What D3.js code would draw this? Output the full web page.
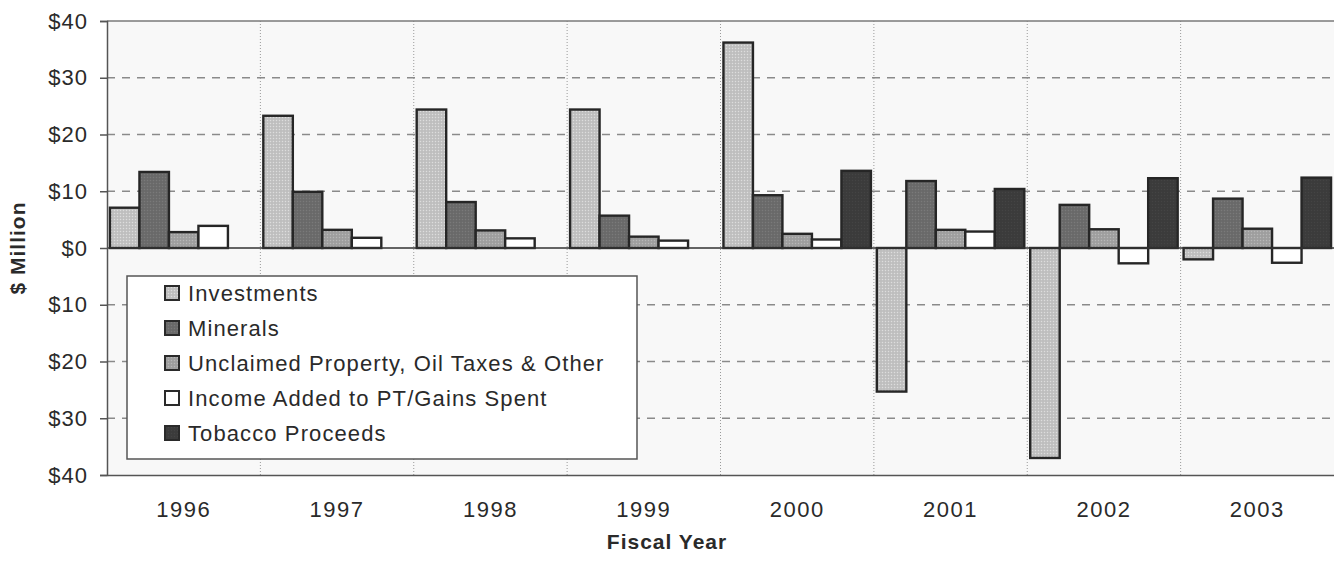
<!DOCTYPE html>
<html>
<head>
<meta charset="utf-8">
<script src="https://cdn.jsdelivr.net/npm/d3@7"></script>
<style>
  html, body { margin: 0; padding: 0; background: #ffffff; }
  svg { display: block; font-family: Arial, "Liberation Sans", sans-serif; }
</style>
</head>
<body>
<svg id="chart" width="1334" height="571"></svg>
<script>
// ---- data ----
const years = ["1996", "1997", "1998", "1999", "2000", "2001", "2002", "2003"];
const seriesNames = [
  "Investments",
  "Minerals",
  "Unclaimed Property, Oil Taxes & Other",
  "Income Added to PT/Gains Spent",
  "Tobacco Proceeds"
];
const investments = [7.1, 23.3, 24.4, 24.4, 36.2, -25.3, -37.0, -2.0];
const minerals    = [13.4, 9.9, 8.1, 5.7, 9.3, 11.8, 7.6, 8.7];
const unclaimed   = [2.8, 3.2, 3.1, 2.0, 2.5, 3.2, 3.3, 3.4];
const incomeAdded = [3.9, 1.8, 1.7, 1.3, 1.5, 2.9, -2.7, -2.6];
const tobacco     = [0, 0, 0, 0, 13.6, 10.4, 12.3, 12.4];
const yTicks = [-40, -30, -20, -10, 0, 10, 20, 30, 40];
const seriesValues = [investments, minerals, unclaimed, incomeAdded, tobacco];
const seriesColors = ["#c3c3c3", "#6c6c6c", "#a2a2a2", "#ffffff", "#3c3c3c"];

// ---- layout ----
const svg = d3.select("#chart");
const pL = 107, pR = 1334, pT = 21, pB = 475;

const x0 = d3.scaleBand().domain(years).range([pL, pR]).padding(0);
const x1 = d3.scaleBand().domain(d3.range(seriesNames.length))
  .range([0, x0.bandwidth()]).paddingInner(0).paddingOuter(0.1);
const y = d3.scaleLinear().domain([-40, 40]).range([pB, pT]);

// patterns (fine dither-like texture)
const defs = svg.append("defs");
seriesColors.forEach((c, i) => {
  const p = defs.append("pattern").attr("id", "pat" + i)
    .attr("width", 3).attr("height", 3).attr("patternUnits", "userSpaceOnUse");
  p.append("rect").attr("width", 3).attr("height", 3).attr("fill", c);
  if (i !== 3) {
    const d = d3.color(c);
    p.append("rect").attr("x", 0).attr("y", 0).attr("width", 1).attr("height", 1)
      .attr("fill", d.brighter(0.35).formatHex());
    p.append("rect").attr("x", 1.5).attr("y", 1.5).attr("width", 1).attr("height", 1)
      .attr("fill", d.darker(0.3).formatHex());
  }
});

// plot background
svg.append("rect").attr("x", pL).attr("y", pT)
  .attr("width", pR - pL).attr("height", pB - pT)
  .attr("fill", "#f8f8f8");

// horizontal dashed gridlines
svg.append("g").selectAll("line")
  .data(yTicks.filter(t => t !== 0 && t !== 40 && t !== -40))
  .join("line")
  .attr("x1", pL).attr("x2", pR)
  .attr("y1", d => y(d)).attr("y2", d => y(d))
  .attr("stroke", "#8a8a8a").attr("stroke-width", 1.5)
  .attr("stroke-dasharray", "8,7");

// vertical dotted category separators
svg.append("g").selectAll("line")
  .data(years.slice(1))
  .join("line")
  .attr("x1", d => x0(d)).attr("x2", d => x0(d))
  .attr("y1", pT).attr("y2", pB)
  .attr("stroke", "#9a9a9a").attr("stroke-width", 1)
  .attr("stroke-dasharray", "1,2");

// top border
svg.append("line").attr("x1", pL).attr("x2", pR)
  .attr("y1", pT).attr("y2", pT)
  .attr("stroke", "#7a7a7a").attr("stroke-width", 1.5);

// bars
const barData = [];
years.forEach((yr, ci) => {
  seriesValues.forEach((vals, si) => {
    barData.push({ yr, si, v: vals[ci] });
  });
});
svg.append("g").selectAll("rect")
  .data(barData.filter(d => d.v !== 0))
  .join("rect")
  .attr("x", d => x0(d.yr) + x1(d.si))
  .attr("width", x1.bandwidth())
  .attr("y", d => y(Math.max(0, d.v)))
  .attr("height", d => Math.abs(y(d.v) - y(0)))
  .attr("fill", d => `url(#pat${d.si})`)
  .attr("stroke", "#262626").attr("stroke-width", 2.4);

// zero line
svg.append("line").attr("x1", pL).attr("x2", pR)
  .attr("y1", y(0)).attr("y2", y(0))
  .attr("stroke", "#333").attr("stroke-width", 1.5);

// y axis
const yAxis = d3.axisLeft(y).tickValues(yTicks)
  .tickFormat(d => "$" + Math.abs(d)).tickSize(7).tickPadding(12);
const gy = svg.append("g").attr("transform", `translate(${pL},0)`).call(yAxis);
gy.select(".domain").attr("stroke", "#555").attr("stroke-width", 1.5);
gy.selectAll(".tick line").attr("stroke", "#555").attr("stroke-width", 1.5);
gy.selectAll(".tick text").attr("font-size", 22).attr("fill", "#2a2a2a")
  .attr("font-family", "Arial, 'Liberation Sans', sans-serif")
  .style("letter-spacing", "1px");

// x axis
const xAxis = d3.axisBottom(x0).tickSize(0).tickPadding(26);
const gx = svg.append("g").attr("transform", `translate(0,${pB})`).call(xAxis);
gx.select(".domain").attr("stroke", "#555").attr("stroke-width", 1.5);
gx.selectAll(".tick text").attr("font-size", 22).attr("fill", "#2a2a2a")
  .attr("font-family", "Arial, 'Liberation Sans', sans-serif")
  .style("letter-spacing", "1.5px");

// axis titles
svg.append("text").attr("x", 667).attr("y", 549)
  .attr("text-anchor", "middle").attr("font-size", 21).attr("font-weight", "bold")
  .attr("fill", "#2a2a2a").style("letter-spacing", "1px")
  .text("Fiscal Year");
svg.append("text")
  .attr("transform", `translate(25,${(pT + pB) / 2}) rotate(-90)`)
  .attr("text-anchor", "middle").attr("font-size", 21).attr("font-weight", "bold")
  .attr("fill", "#2a2a2a").style("letter-spacing", "1px")
  .text("$ Million");

// legend
const lg = svg.append("g");
lg.append("rect").attr("x", 127).attr("y", 276).attr("width", 510).attr("height", 183)
  .attr("fill", "#ffffff").attr("stroke", "#555").attr("stroke-width", 1.5);
const items = lg.selectAll("g.item").data(seriesNames).join("g")
  .attr("class", "item")
  .attr("transform", (d, i) => `translate(165,${293 + i * 35})`);
items.append("rect").attr("x", 0).attr("y", -7).attr("width", 14).attr("height", 14)
  .attr("fill", (d, i) => `url(#pat${i})`).attr("stroke", "#2a2a2a").attr("stroke-width", 2);
items.append("text").attr("x", 23).attr("y", 0).attr("dy", "0.35em")
  .attr("font-size", 22).attr("fill", "#2a2a2a").style("letter-spacing", "1.1px")
  .text(d => d);
</script>
</body>
</html>
